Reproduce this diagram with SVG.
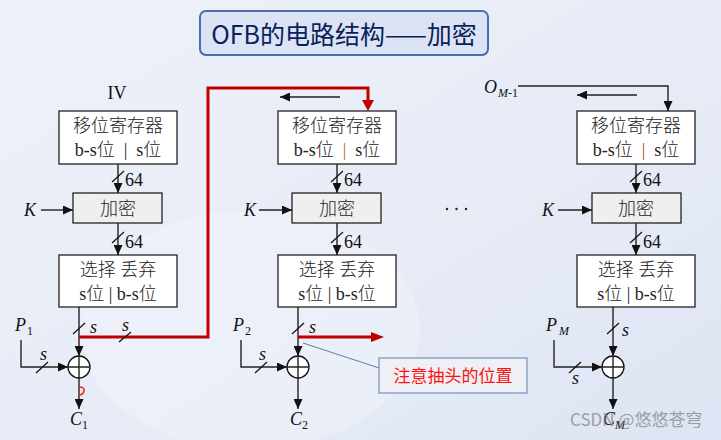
<svg xmlns="http://www.w3.org/2000/svg" width="721" height="440" viewBox="0 0 721 440">
<defs>
<linearGradient id="bg" x1="0" y1="0" x2="1" y2="1">
<stop offset="0" stop-color="#eef1f8"/>
<stop offset="0.6" stop-color="#e6ebf6"/>
<stop offset="1" stop-color="#dde4f3"/>
</linearGradient>
<marker id="ah" markerUnits="userSpaceOnUse" markerWidth="10" markerHeight="9" refX="10" refY="4.5" orient="auto">
<path d="M0,0 L10,4.5 L0,9 z" fill="#111"/>
</marker>
<style>
.box{fill:#fff;stroke:#222;stroke-width:1.3}
.enc{fill:#efefef;stroke:#222;stroke-width:1.3}
.cn{font-family:"Liberation Serif","Noto Sans CJK SC",serif;font-size:18px;font-weight:300;fill:#222;text-anchor:middle}
.num{font-family:"Liberation Serif",serif;font-size:18px;fill:#111}
.it{font-family:"Liberation Serif",serif;font-style:italic;font-size:18px;fill:#111}
.sub{font-family:"Liberation Serif",serif;font-size:12px;fill:#111}
.ln{stroke:#222;stroke-width:1.4;fill:none}
.arr{stroke:#222;stroke-width:1.4;fill:none;marker-end:url(#ah)}
.red{stroke:#c00000;stroke-width:3;fill:none}
.sl{stroke:#111;stroke-width:1.2}
</style>
</defs>
<rect width="721" height="440" fill="url(#bg)"/>
<ellipse cx="250" cy="330" rx="170" ry="120" fill="#f2f4fa" opacity="0.5"/>

<g id="title">
<rect x="200" y="11" width="288" height="44" rx="6" fill="#dbe3f4" stroke="#4a6cb0" stroke-width="2"/>
<text x="344" y="44" font-family="'Noto Sans CJK SC','Liberation Sans',sans-serif" font-size="25" fill="#0b1f5a" text-anchor="middle">OFB的电路结构——加密</text>
</g>

<!-- Column 1 -->
<g id="iv"><text x="117" y="99" font-family="'Liberation Serif',serif" font-size="18" fill="#111" text-anchor="middle">IV</text></g>
<g id="sr1"><rect class="box" x="59" y="111" width="118" height="53"/>
<text class="cn" x="118" y="132">移位寄存器</text>
<text class="cn" x="118" y="156" xml:space="preserve">b-s位  |  s位</text></g>
<g id="enc1"><rect class="enc" x="73" y="193" width="89" height="30"/>
<text class="cn" x="118" y="215">加密</text></g>
<g id="k1"><text class="it" x="24" y="216">K</text></g>
<g id="sel1"><rect class="box" x="59" y="255" width="118" height="52"/>
<text class="cn" x="118" y="276">选择 丢弃</text>
<text class="cn" x="118" y="300">s位 | b-s位</text></g>
<g id="xor1"><circle cx="79" cy="367" r="11" fill="#fff" stroke="#111" stroke-width="1.3"/>
<path class="ln" d="M68,367 H90 M79,356 V378"/></g>
<g id="p1"><text class="it" x="15" y="331">P</text><text class="sub" x="27" y="335">1</text></g>
<g id="c1"><text class="it" x="70" y="425">C</text><text class="sub" x="82" y="429">1</text></g>

<!-- Column 2 -->
<g id="sr2"><rect class="box" x="278" y="111" width="118" height="53"/>
<text class="cn" x="337" y="132">移位寄存器</text>
<text class="cn" x="337" y="156" xml:space="preserve">b-s位  <tspan fill="#c06a10">|</tspan>  s位</text></g>
<g id="enc2"><rect class="enc" x="292" y="193" width="89" height="30"/>
<text class="cn" x="337" y="215">加密</text></g>
<g id="k2"><text class="it" x="244" y="216">K</text></g>
<g id="sel2"><rect class="box" x="278" y="255" width="118" height="52"/>
<text class="cn" x="337" y="276">选择 丢弃</text>
<text class="cn" x="337" y="300">s位 | b-s位</text></g>
<g id="xor2"><circle cx="298" cy="367" r="11" fill="#fff" stroke="#111" stroke-width="1.3"/>
<path class="ln" d="M287,367 H309 M298,356 V378"/></g>
<g id="p2"><text class="it" x="233" y="331">P</text><text class="sub" x="245" y="335">2</text></g>
<g id="c2"><text class="it" x="290" y="425">C</text><text class="sub" x="302" y="429">2</text></g>
<g id="note"><rect x="379" y="358" width="148" height="35" fill="#eef0f5" stroke="#8aa5c9" stroke-width="1.5"/>
<text x="453" y="382" font-family="'Noto Sans CJK SC',sans-serif" font-size="17" fill="#ff1010" text-anchor="middle">注意抽头的位置</text></g>

<!-- dots -->
<g id="dots" fill="#222"><circle cx="447" cy="209" r="1.2"/><circle cx="456.5" cy="209" r="1.2"/><circle cx="466" cy="209" r="1.2"/></g>

<!-- Column 3 -->
<g id="om1"><text class="it" x="484" y="93">O</text><text class="sub" x="498" y="97" font-style="italic">M</text><text class="sub" x="508" y="97">-1</text></g>
<g id="sr3"><rect class="box" x="577" y="111" width="118" height="53"/>
<text class="cn" x="636" y="132">移位寄存器</text>
<text class="cn" x="636" y="156" xml:space="preserve">b-s位  <tspan fill="#c04010">|</tspan>  s位</text></g>
<g id="enc3"><rect class="enc" x="592" y="193" width="89" height="30"/>
<text class="cn" x="636" y="215">加密</text></g>
<g id="k3"><text class="it" x="542" y="216">K</text></g>
<g id="sel3"><rect class="box" x="577" y="255" width="118" height="52"/>
<text class="cn" x="636" y="276">选择 丢弃</text>
<text class="cn" x="636" y="300">s位 | b-s位</text></g>
<g id="xor3"><circle cx="613" cy="367" r="11" fill="#fff" stroke="#111" stroke-width="1.3"/>
<path class="ln" d="M602,367 H624 M613,356 V378"/></g>
<g id="pm"><text class="it" x="546" y="331">P</text><text class="sub" x="559" y="335" font-style="italic">M</text></g>
<g id="cm"><text class="it" x="603" y="425">C</text><text class="sub" x="615" y="429" font-style="italic">M</text></g>

<g id="connectors">
<!-- column 1 -->
<line class="arr" x1="118" y1="164" x2="118" y2="193"/>
<line class="sl" x1="112" y1="182" x2="124" y2="171"/>
<text class="num" x="125" y="186">64</text>
<line class="arr" x1="41" y1="210" x2="73" y2="210"/>
<line class="arr" x1="118" y1="223" x2="118" y2="255"/>
<line class="sl" x1="112" y1="243" x2="124" y2="232"/>
<text class="num" x="125" y="248">64</text>
<line class="arr" x1="79" y1="307" x2="79" y2="356"/>
<line class="sl" x1="73" y1="334" x2="85" y2="323"/>
<text class="it" x="90" y="333" font-size="17">s</text>
<polyline class="red" points="79,337 208,337 208,88 368,88 368,104"/>
<path d="M362,100 L368,111 L374,100 z" fill="#c00000"/>
<line class="sl" x1="119" y1="342" x2="131" y2="332"/>
<text class="it" x="122" y="331" font-size="17">s</text>
<polyline class="arr" points="21,340 21,367 68,367"/>
<line class="sl" x1="36" y1="373" x2="48" y2="362"/>
<text class="it" x="40" y="360" font-size="17">s</text>
<line class="arr" x1="79" y1="378" x2="79" y2="409"/>
<path d="M79,387 Q85,387 84,391 Q83,395 79,395" fill="none" stroke="#ff2020" stroke-width="1.6"/>
<!-- column 2 -->
<line class="arr" x1="340" y1="97" x2="280" y2="97"/>
<line class="arr" x1="337" y1="164" x2="337" y2="193"/>
<line class="sl" x1="331" y1="182" x2="343" y2="171"/>
<text class="num" x="344" y="186">64</text>
<line class="arr" x1="259" y1="210" x2="292" y2="210"/>
<line class="arr" x1="337" y1="223" x2="337" y2="255"/>
<line class="sl" x1="331" y1="243" x2="343" y2="232"/>
<text class="num" x="344" y="248">64</text>
<line class="arr" x1="298" y1="307" x2="298" y2="356"/>
<line class="sl" x1="292" y1="334" x2="304" y2="323"/>
<text class="it" x="309" y="333" font-size="17">s</text>
<line class="red" x1="298" y1="337" x2="373" y2="337"/>
<path d="M371,332 L384,337 L371,342 z" fill="#c00000"/>
<line x1="303" y1="343" x2="379" y2="368" stroke="#5b80ad" stroke-width="1"/>
<polyline class="arr" points="241,340 241,367 287,367"/>
<line class="sl" x1="255" y1="373" x2="267" y2="362"/>
<text class="it" x="259" y="360" font-size="17">s</text>
<line class="arr" x1="298" y1="378" x2="298" y2="409"/>
<!-- column 3 -->
<polyline class="arr" points="518,86 668,86 668,111"/>
<line class="arr" x1="637" y1="95" x2="577" y2="95"/>
<line class="arr" x1="636" y1="164" x2="636" y2="193"/>
<line class="sl" x1="630" y1="182" x2="642" y2="171"/>
<text class="num" x="643" y="186">64</text>
<line class="arr" x1="558" y1="210" x2="592" y2="210"/>
<line class="arr" x1="636" y1="223" x2="636" y2="255"/>
<line class="sl" x1="630" y1="243" x2="642" y2="232"/>
<text class="num" x="643" y="248">64</text>
<line class="arr" x1="613" y1="307" x2="613" y2="356"/>
<line class="sl" x1="607" y1="334" x2="619" y2="323"/>
<text class="it" x="622" y="336" font-size="17">s</text>
<polyline class="arr" points="554,340 554,367 602,367"/>
<line class="sl" x1="569" y1="373" x2="581" y2="362"/>
<text class="it" x="572" y="384" font-size="17">s</text>
<line class="arr" x1="613" y1="378" x2="613" y2="409"/>
</g>

<g id="watermark"><text x="570" y="426" font-family="'Noto Sans CJK SC','Liberation Sans',sans-serif" font-size="17" fill="#888" opacity="0.75">CSDN @悠悠苍穹</text></g>
</svg>
